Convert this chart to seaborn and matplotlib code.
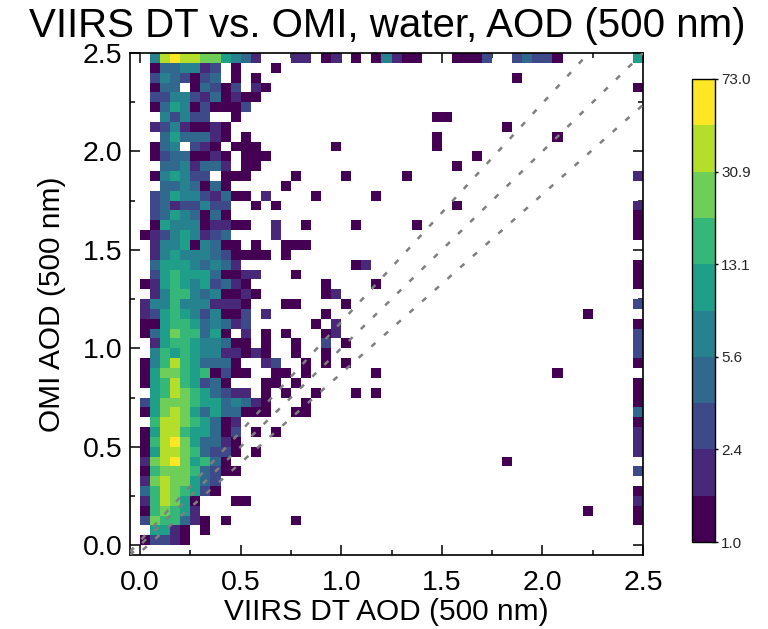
import numpy as np
import matplotlib
matplotlib.use("Agg")
import matplotlib as mpl
import matplotlib.pyplot as plt
from matplotlib.colors import BoundaryNorm
from matplotlib.ticker import FormatStrFormatter
import seaborn as sns

# ---------------- data ----------------
title = "VIIRS DT vs. OMI, water, AOD (500 nm)"
x_label = "VIIRS DT AOD (500 nm)"
y_label = "OMI AOD (500 nm)"

bin_width = 0.05
axis_min, axis_max = -0.05, 2.5
n_bins = 51

# estimated counts per cell; key = OMI row bin index (0 -> [-0.05, 0.0)),
# tokens are "VIIRS column bin index:count"
omi_rows = {
    50: "2:7 3:38 4:73 5:38 6:38 7:25 8:25 9:11 10:7 11:4 12:2 16:2 17:2 19:1 20:2 22:1 24:1 25:7 26:2 27:1 28:1 32:1 33:1 34:1 35:3 38:3 39:4 40:3 41:3 42:1 50:11",
    49: "2:1 3:4 4:4 5:7 6:7 7:2 8:3 10:1 14:1",
    48: "2:3 3:7 4:4 5:3 6:1 7:3 8:4 10:1 12:1 38:1",
    47: "2:1 3:4 4:4 6:1 7:4 8:3 9:1 10:3 12:2 13:1 50:1",
    46: "2:3 3:3 4:7 5:7 6:3 7:2 8:4 9:1 10:2 11:1 12:1",
    45: "2:1 3:4 4:11 5:7 6:1 7:3 8:1 9:1 10:1 11:3",
    44: "3:7 4:3 5:7 6:3 7:3 10:1 30:1 31:1",
    43: "2:2 3:3 4:7 5:2 6:1 7:1 8:2 9:1 37:1",
    42: "3:4 4:11 5:4 6:4 7:4 8:2 9:1 11:1 30:1 42:1",
    41: "2:1 3:4 4:7 6:3 7:2 8:1 10:1 11:1 12:1 20:1 30:1",
    40: "2:1 3:3 4:4 5:4 6:1 7:1 8:2 9:1 11:1 12:1 13:1 34:1",
    39: "3:4 4:4 5:7 6:2 7:4 8:4 9:2 11:1 12:1 32:1",
    38: "2:1 3:7 4:11 5:7 6:3 7:3 9:1 10:1 11:1 16:1 21:1 27:1 50:2",
    37: "3:4 4:4 5:7 6:4 7:1 8:4 9:1 15:1",
    36: "2:3 3:4 4:11 5:7 6:7 7:3 8:2 9:4 10:1 11:1 13:2 18:1 24:1",
    35: "2:3 3:4 4:2 5:3 6:3 7:7 8:3 9:3 12:1 14:1 32:1 50:2",
    34: "2:3 3:4 4:11 5:7 6:4 7:1 8:4 9:1 50:1",
    33: "2:1 3:11 4:7 5:7 6:7 7:1 8:2 9:2 10:1 11:1 14:2 17:1 22:1 28:1 50:1",
    32: "1:1 2:2 3:3 4:7 5:11 6:7 7:2 8:3 9:4 14:2 50:1",
    31: "2:2 3:7 4:7 5:11 6:1 7:7 8:4 9:1 10:1 12:1 15:1 16:1 17:1",
    30: "2:2 3:7 4:11 5:7 6:7 7:7 8:4 9:3 10:1 11:1 12:1 13:1 15:1",
    29: "2:4 3:11 4:11 5:11 6:7 7:4 8:7 9:4 10:2 22:1 23:2 50:1",
    28: "2:3 3:11 4:16 5:11 6:11 7:11 8:4 9:1 10:1 11:2 12:2 16:1 50:1",
    27: "1:1 2:2 3:11 4:16 5:11 6:7 7:11 8:3 9:4 10:2 11:1 19:1 24:1 50:1",
    26: "2:2 3:7 4:16 5:16 6:7 7:4 8:7 9:1 10:1 11:2 12:1 19:1 20:2",
    25: "1:2 2:7 3:7 4:16 5:7 6:7 7:7 8:2 9:2 10:2 11:1 15:1 16:1 21:1 50:3",
    24: "1:2 2:3 3:11 4:16 5:11 6:7 7:3 8:7 9:1 10:1 11:3 13:2 19:1 45:1",
    23: "1:1 2:1 3:11 4:16 5:16 6:11 7:4 8:7 9:4 10:2 11:3 18:1 20:2 50:1",
    22: "1:1 2:4 3:11 4:25 5:16 6:16 7:4 8:11 9:1 11:2 13:1 15:1 19:1 20:2 50:3",
    21: "2:2 3:11 4:16 5:16 6:11 7:7 8:7 9:4 10:1 11:1 13:1 16:1 19:3 21:1 50:3",
    20: "2:7 3:16 4:11 5:16 6:11 7:7 8:7 9:2 10:2 11:1 12:2 13:1 16:1 19:1 50:3",
    19: "1:1 2:7 3:16 4:38 5:16 6:11 7:4 8:4 9:4 10:1 13:2 14:3 17:1 19:1 21:1 50:1",
    18: "1:1 2:11 3:25 4:25 5:16 6:11 7:16 8:1 9:3 10:1 11:1 14:1 15:1 17:1 24:1 42:1",
    17: "1:1 2:11 3:16 4:38 5:16 6:11 7:3 8:4 9:1 13:1 14:1 16:1 50:1",
    16: "2:11 3:16 4:38 5:25 6:16 7:11 8:4 9:3 10:2 11:2 13:1 15:1 18:1 22:1 24:1 50:1",
    15: "1:3 2:11 3:25 4:25 5:25 6:16 7:11 8:11 9:4 10:7 11:4 12:2 13:1 17:1 50:1",
    14: "1:1 2:11 3:25 4:38 5:25 6:11 7:4 8:11 9:4 10:4 11:1 12:1 13:1 16:1 17:1 50:4",
    13: "2:16 3:38 4:38 5:25 6:16 7:11 8:4 9:1 10:2 50:1",
    12: "1:1 2:11 3:38 4:38 5:16 6:11 7:11 8:4 9:1 10:3 12:1 14:1 50:2",
    11: "1:1 2:16 3:38 4:58 5:25 6:11 7:4 8:4 9:2 10:1 50:2",
    10: "1:1 2:11 3:38 4:38 5:25 6:16 7:4 8:3 9:3 10:1 12:1 50:2",
    9: "1:2 2:25 3:38 4:58 5:25 6:11 7:16 8:4 9:1 37:1",
    8: "1:1 2:16 3:25 4:25 5:25 6:16 7:4 8:3 9:1 10:1 50:3",
    7: "1:2 2:25 3:38 4:25 5:25 6:11 7:4 8:3",
    6: "1:4 2:16 3:38 4:25 5:16 6:11 7:3 8:1 50:1",
    5: "1:2 2:16 3:38 4:25 5:11 6:1 10:1 11:1 50:2",
    4: "1:1 2:16 3:25 4:16 5:11 6:2 45:1 50:1",
    3: "1:3 2:25 3:16 4:16 5:4 6:2 7:1 9:1 16:1 50:1",
    2: "2:11 3:11 4:2 5:1 7:1",
    1: "1:1 2:3 3:3 4:2 5:1",
}

# colour scale (10 log-spaced classes from 1 to 73)
count_max = 73.0
n_levels = 10
cbar_tick_labels = ["1.0", "2.4", "5.6", "13.1", "30.9", "73.0"]

# reference lines: 1:1 and expected-error envelope
ee_upper_offset, ee_upper_scale = 0.02, 0.90
ee_lower_offset, ee_lower_scale = -0.04, 1.10

# ---------------- assemble histogram input ----------------
xs, ys, ws = [], [], []
for row, tokens in omi_rows.items():
    for tok in tokens.split():
        col, cnt = tok.split(":")
        xs.append(axis_min + (int(col) + 0.5) * bin_width)
        ys.append(axis_min + (row + 0.5) * bin_width)
        ws.append(float(cnt))
edges = list(np.linspace(axis_min, axis_max, n_bins + 1))

# ---------------- figure ----------------
sns.set_style("ticks")
plt.rcParams["font.family"] = ["Liberation Sans", "DejaVu Sans"]

W, H = 768, 629
fig = plt.figure(figsize=(W / 100, H / 100), dpi=100)
ax = fig.add_axes([130 / W, 1 - 555 / H, 513 / W, 502 / H])

cmap = mpl.colormaps["viridis"].resampled(n_levels)
bounds = count_max ** (np.arange(n_levels + 1) / n_levels)
norm = BoundaryNorm(bounds, n_levels)

sns.histplot(x=xs, y=ys, weights=ws, bins=[edges, edges], cmap=cmap,
             cbar=False, ax=ax)
mesh = ax.collections[0]
mesh.set_norm(norm)
mesh.set_cmap(cmap)

xx = np.linspace(axis_min, axis_max, 200)
dash = (0, (2.2, 4.6))
ax.plot(xx, (xx + ee_upper_offset) / ee_upper_scale, color="#7f7f7f", lw=1.8, ls=dash, zorder=5)
ax.plot(xx, xx, color="#7f7f7f", lw=1.8, ls=dash, zorder=5)
ax.plot(xx, (xx + ee_lower_offset) / ee_lower_scale, color="#7f7f7f", lw=1.8, ls=dash, zorder=5)

ax.set_xlim(axis_min, axis_max)
ax.set_ylim(axis_min, axis_max)
major = np.arange(0, 2.51, 0.5)
minor = np.arange(0, 2.51, 0.25)
ax.set_xticks(major)
ax.set_yticks(major)
ax.set_xticks(minor, minor=True)
ax.set_yticks(minor, minor=True)
ax.xaxis.set_major_formatter(FormatStrFormatter("%.1f"))
ax.yaxis.set_major_formatter(FormatStrFormatter("%.1f"))
ax.tick_params(which="both", direction="in", top=True, right=True,
               width=1.1, color="black", labelcolor="black")
ax.tick_params(which="major", length=7.2)
ax.tick_params(which="minor", length=3.8)
ax.tick_params(axis="x", labelsize=20.5, pad=11)
ax.tick_params(axis="y", labelsize=20.5, pad=5.5)
for sp in ax.spines.values():
    sp.set_visible(True)
    sp.set_linewidth(1.2)
    sp.set_color("black")

ax.set_xlabel(x_label, fontsize=21.5, labelpad=1, color="black")
ax.set_ylabel(y_label, fontsize=21.5, labelpad=12, color="black")
fig.text(387 / W, 1 - 37 / H, title, ha="center", va="baseline",
         fontsize=29, color="black")

# colour bar
cax = fig.add_axes([692 / W, 1 - 542 / H, 23 / W, 463 / H])
cb = fig.colorbar(mesh, cax=cax)
cb.set_ticks(bounds[::2], labels=cbar_tick_labels)
cb.set_ticks(bounds[1::2], minor=True)
cb.outline.set_linewidth(1.0)
cb.outline.set_edgecolor("black")
cax.tick_params(which="major", direction="inout", length=5, width=1,
                labelsize=11, pad=2, color="black")
cax.tick_params(which="minor", direction="in", length=2.5, width=1, color="black")

fig.savefig("out.png", dpi=100)
